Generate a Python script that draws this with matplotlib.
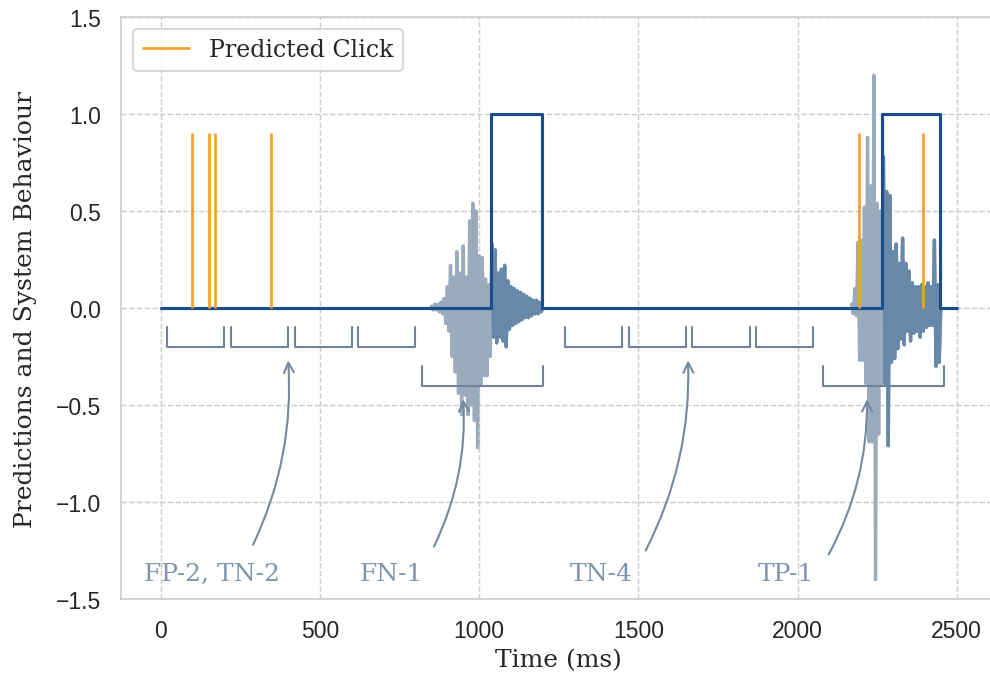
import matplotlib
matplotlib.use("Agg")
import matplotlib.pyplot as plt
import numpy as np
import seaborn as sns

# --- данные ---
# аудиосигнал: два всплеска, отсчёты через 5 мс (верх/низ попеременно)
burst1_t = np.arange(850, 1205, 5)
burst1_v = [0.01, -0.01, 0.02, -0.01, 0.02, -0.02, 0.03, -0.03, 0.05, -0.08,
            0.11, -0.12, 0.22, -0.25, 0.16, -0.33, 0.29, -0.44, 0.18, -0.55,
            0.32, -0.45, 0.16, -0.55, 0.45, -0.50, 0.54, -0.58, 0.50, -0.72,
            0.27, -0.40, 0.26, -0.35, 0.15, -0.35, 0.12, -0.25, 0.33, -0.15,
            0.30, -0.18, 0.18, -0.15, 0.20, -0.17, 0.22, -0.20, 0.14, -0.11,
            0.11, -0.09, 0.10, -0.08, 0.09, -0.07, 0.08, -0.06, 0.07, -0.05,
            0.06, -0.05, 0.05, -0.04, 0.04, -0.03, 0.04, -0.03, 0.03, -0.02,
            0.0]
burst2_t = np.arange(2170, 2455, 5)
burst2_v = [0.02, -0.03, 0.10, -0.04, 0.34, -0.27, 0.35, -0.27, 0.52, -0.39,
            0.88, -0.69, 0.63, -0.69, 1.20, -1.40, 0.54, -0.65, 0.50, -0.39,
            0.78, -0.39, 0.60, -0.71, 0.58, -0.28, 0.29, -0.26, 0.33, -0.21,
            0.23, -0.16, 0.36, -0.19, 0.23, -0.12, 0.19, -0.17, 0.13, -0.13,
            0.11, -0.12, 0.11, -0.15, 0.12, -0.12, 0.11, -0.10, 0.13, -0.09,
            0.11, -0.09, 0.35, -0.30, 0.12, -0.28, 0.0]

# поведение системы (ступенчатая функция)
system_t = [0, 1036, 1196, 2266, 2447, 2500]
system_v = [0, 1, 0, 1, 0, 0]

# предсказанные клики
click_t = [97, 150, 169, 345, 2193, 2393]
click_h = 0.9

# окна оценки
short_windows = [(20, 200), (220, 400), (420, 600), (620, 800),
                 (1270, 1450), (1470, 1650), (1670, 1850), (1870, 2050)]
long_windows = [(820, 1200), (2080, 2460)]

labels = ['FP-2, TN-2', 'FN-1', 'TN-4', 'TP-1']
label_x = [161, 725, 1384, 1964]
arrow_tail = [(290, -1.22), (858, -1.23), (1523, -1.25), (2098, -1.27)]
arrow_head = [(400, -0.27), (950, -0.47), (1656, -0.27), (2218, -0.47)]

# --- стиль ---
sns.set_theme(style='whitegrid', rc={'grid.linestyle': '--', 'grid.color': '.8',
                                     'grid.linewidth': 0.7, 'axes.linewidth': 0.8,
                                     'axes.edgecolor': '.8'})
plt.rcParams['font.family'] = ['Liberation Sans', 'DejaVu Sans']

c_light = '#9aabbd'
c_dark = '#6888aa'
c_sys = '#1a4d8c'
c_click = '#f7a028'
c_brk = '#6f8499'
c_txt = '#8094aa'

fig = plt.figure(figsize=(6.6, 4.52), dpi=150)
ax = fig.add_axes([121 / 990, 78 / 678, 875.5 / 990, 582 / 678])

# сигнал: светлый целиком, тёмный там, где система включена
on_t = [system_t[i] for i in range(len(system_v)) if system_v[i] == 1]
for t, v, t_on in [(burst1_t, burst1_v, on_t[0]), (burst2_t, burst2_v, on_t[1])]:
    v = np.array(v)
    ax.plot(t, v, color=c_light, lw=1.6, zorder=1)
    m = t >= t_on
    ax.plot(t[m], v[m], color=c_dark, lw=1.6, zorder=1.5)

ax.plot(system_t, system_v, drawstyle='steps-post', color=c_sys, lw=1.5, zorder=3)
ax.vlines(click_t, 0, click_h, color=c_click, lw=1.3, zorder=4, label='Predicted Click')

# скобки окон
for s, e in short_windows:
    ax.plot([s, s, e, e], [-0.1, -0.2, -0.2, -0.1], color=c_brk, lw=1.0)
for s, e in long_windows:
    ax.plot([s, s, e, e], [-0.3, -0.4, -0.4, -0.3], color=c_brk, lw=1.0)

# подписи со стрелками
for lab, x, tail, head in zip(labels, label_x, arrow_tail, arrow_head):
    ax.text(x, -1.40, lab, ha='center', va='baseline', family='DejaVu Serif',
            fontsize=12, color=c_txt)
    ax.annotate('', xy=head, xytext=tail,
                arrowprops=dict(arrowstyle='->', color='#7489a0', lw=1.0,
                                shrinkA=0, shrinkB=0,
                                connectionstyle='arc3,rad=0.13'))

ax.set_xlim(-125, 2625)
ax.set_ylim(-1.5, 1.5)
ax.set_xticks([0, 500, 1000, 1500, 2000, 2500])
ax.set_yticks([-1.5, -1.0, -0.5, 0.0, 0.5, 1.0, 1.5])
ax.tick_params(axis='both', labelsize=11, pad=3.5, colors='.15')
ax.set_xlabel('Time (ms)', family='DejaVu Serif', fontsize=12, labelpad=3)
ax.set_ylabel('Predictions and System Behaviour', family='DejaVu Serif',
              fontsize=12, labelpad=9)

ax.legend(loc='upper left', prop={'family': 'DejaVu Serif', 'size': 11.4})

fig.savefig('out.png', dpi=150)
